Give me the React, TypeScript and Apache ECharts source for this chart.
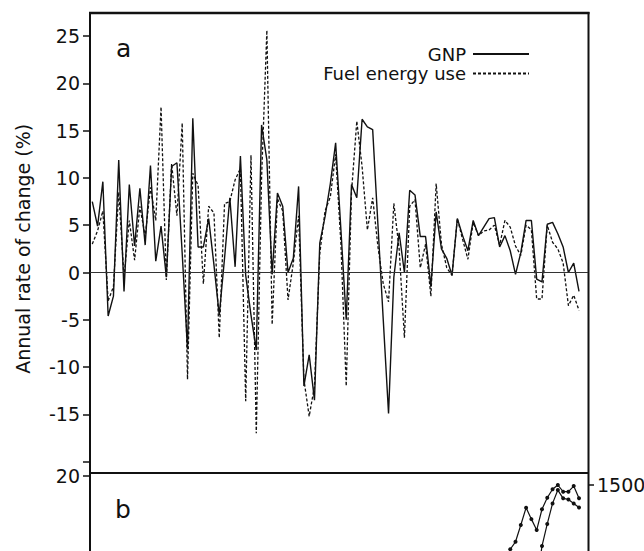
import React, { useEffect, useRef } from "react";
import * as echarts from "echarts";

// Panel a: annual rate of change (%), one value per year from FIRST_YEAR
const FIRST_YEAR = 1890;

const gnpGrowth = [
  // 1890-1899
  7.5, 4.9, 9.6, -4.6, -2.5, 11.9, -2.0, 9.3, 2.8, 8.9,
  // 1900-1909
  2.9, 11.3, 1.2, 4.9, -0.5, 11.2, 11.6, 2.0, -8.1, 16.3,
  // 1910-1919
  2.7, 2.7, 5.7, 0.8, -4.5, 1.5, 7.9, 0.6, 12.3, -0.3,
  // 1920-1929
  -4.5, -8.2, 15.6, 11.9, -0.2, 8.4, 7.0, 0.0, 1.5, 9.1,
  // 1930-1939
  -12.0, -8.7, -13.5, 3.1, 5.9, 9.4, 13.7, 4.5, -5.0, 9.3,
  // 1940-1949
  7.9, 16.2, 15.4, 15.1, 5.0, -5.0, -14.9, -0.5, 4.2, 0.0,
  // 1950-1959
  8.7, 8.2, 3.8, 3.8, -1.5, 6.4, 2.5, 1.5, -0.3, 5.7,
  // 1960-1969
  3.9, 2.3, 5.5, 3.9, 4.8, 5.7, 5.8, 2.7, 3.9, 2.3,
  // 1970-1979
  -0.2, 2.1, 5.5, 5.5, -0.7, -1.0, 5.1, 5.3, 4.1, 2.7,
  // 1980-1982
  0.0, 1.0, -2.0,
];

const fuelGrowth = [
  // 1890-1899
  3.0, 4.4, 6.5, -3.0, -1.5, 8.5, -0.5, 5.5, 1.3, 7.0,
  // 1900-1909
  3.8, 9.0, 5.5, 17.5, -0.8, 11.5, 6.0, 15.8, -11.3, 10.5,
  // 1910-1919
  9.2, -1.2, 7.0, 6.3, -6.9, 7.3, 7.5, 9.8, 11.0, -13.6,
  // 1920-1929
  12.4, -17.0, 10.0, 25.6, -5.5, 7.8, 6.5, -2.9, 1.0, 6.0,
  // 1930-1939
  -11.3, -15.2, -12.0, 2.0, 6.5, 8.0, 12.5, 3.0, -12.0, 8.5,
  // 1940-1949
  16.0, 11.2, 4.5, 7.9, 2.7, -1.2, -3.1, 7.3, 2.5, -6.9,
  // 1950-1959
  7.0, 7.7, 0.5, 3.0, -2.5, 9.4, 3.0, 0.5, -0.3, 5.7,
  // 1960-1969
  3.5, 1.4, 5.3, 3.9, 4.4, 4.5, 5.0, 2.9, 5.5, 4.8,
  // 1970-1979
  2.8, 1.8, 5.0, 4.5, -2.8, -2.8, 5.0, 3.2, 2.5, 1.0,
  // 1980-1982
  -3.5, -2.4, -4.0,
];

const years = gnpGrowth.map((_, i) => FIRST_YEAR + i);

// Panel b (only its top edge is visible)
const panelBYearsUpper = [1968, 1969, 1970, 1971, 1972, 1973, 1974, 1975, 1976, 1977, 1978, 1979, 1980, 1981, 1982];
const panelBValuesUpper = [1200, 1259, 1287, 1350, 1415, 1372, 1331, 1409, 1452, 1484, 1500, 1475, 1475, 1496, 1450];
const panelBYearsLower = [1974, 1975, 1976, 1977, 1978, 1979, 1980, 1981, 1982];
const panelBValuesLower = [1125, 1271, 1354, 1431, 1481, 1450, 1446, 1431, 1416];

// tick labels that fall inside the visible part of panel b
const panelBLeftVisibleTick = 20;
const panelBRightVisibleTick = 1500;

const legendNames = ["GNP", "Fuel energy use"];
const yTitle = "Annual rate of change (%)";

export default function App() {
  const ref = useRef<HTMLDivElement>(null);

  useEffect(() => {
    if (!ref.current) return;
    const chart = echarts.init(ref.current, null, { renderer: "svg" });
    const font = "DejaVu Sans";
    const ink = "#111";
    const xRange = { min: 1889.57, max: 1983.7 };

    const labelStyle = {
      color: ink,
      fontFamily: font,
      fontSize: 19,
      margin: 10,
    };
    const tickStyle = { show: true, inside: false, length: 7, lineStyle: { color: ink, width: 1.5 } };

    const legendBase = {
      right: 114,
      align: "right",
      orient: "horizontal",
      padding: 0,
      itemWidth: 56,
      itemHeight: 12,
      itemGap: 0,
      selectedMode: false,
      itemStyle: { opacity: 0 },
      textStyle: { color: ink, fontFamily: font, fontSize: 18, lineHeight: 16, padding: [0, 2, 0, 0] },
    };

    chart.setOption({
      animation: false,
      backgroundColor: "#ffffff",
      grid: [
        { left: 90, top: 36, width: 498, height: 425.7, outerBoundsMode: "none" },
        { left: 90, top: 476, width: 498, height: 400, outerBoundsMode: "none" },
        { left: 90, top: 485, width: 498, height: 400, outerBoundsMode: "none" },
      ],
      xAxis: [0, 1, 2].map((i) => ({
        type: "value",
        gridIndex: i,
        min: xRange.min,
        max: xRange.max,
        show: false,
      })),
      yAxis: [
        {
          type: "value",
          gridIndex: 0,
          min: -20,
          max: 25,
          interval: 5,
          name: yTitle,
          nameLocation: "middle",
          nameRotate: 90,
          nameGap: 58,
          nameTextStyle: { color: ink, fontFamily: font, fontSize: 19 },
          axisLine: { show: false },
          axisTick: tickStyle,
          axisLabel: {
            ...labelStyle,
            formatter: (v: number) => (v === -20 ? "" : String(v)),
          },
          splitLine: { show: false },
        },
        {
          type: "value",
          gridIndex: 1,
          min: 0,
          max: 20,
          interval: 5,
          axisLine: { show: false },
          axisTick: tickStyle,
          axisLabel: {
            ...labelStyle,
            formatter: (v: number) => (v === panelBLeftVisibleTick ? String(v) : ""),
          },
          splitLine: { show: false },
        },
        {
          type: "value",
          gridIndex: 2,
          position: "right",
          min: 0,
          max: 1500,
          interval: 500,
          axisLine: { show: false },
          axisTick: { ...tickStyle, length: 6 },
          axisLabel: {
            ...labelStyle,
            margin: 9,
            formatter: (v: number) => (v === panelBRightVisibleTick ? String(v) : ""),
          },
          splitLine: { show: false },
        },
      ],
      legend: [
        { ...legendBase, data: [legendNames[0]], top: 45 },
        { ...legendBase, data: [legendNames[1]], top: 64.5 },
      ],
      graphic: [
        { type: "line", shape: { x1: 89, y1: 13, x2: 589.5, y2: 13 }, style: { stroke: ink, lineWidth: 2.5 } },
        { type: "line", shape: { x1: 90, y1: 12, x2: 90, y2: 560 }, style: { stroke: ink, lineWidth: 2 } },
        { type: "line", shape: { x1: 588.5, y1: 12, x2: 588.5, y2: 560 }, style: { stroke: ink, lineWidth: 2 } },
        { type: "line", shape: { x1: 90, y1: 473, x2: 588.5, y2: 473 }, style: { stroke: ink, lineWidth: 2 } },
        {
          type: "text",
          x: 116,
          y: 61,
          style: { text: "a", fill: ink, font: `25px "${font}"`, textVerticalAlign: "bottom" },
        },
        {
          type: "text",
          x: 115,
          y: 522,
          style: { text: "b", fill: ink, font: `25px "${font}"`, textVerticalAlign: "bottom" },
        },
      ],
      series: [
        {
          name: legendNames[0],
          type: "line",
          xAxisIndex: 0,
          yAxisIndex: 0,
          data: years.map((y, i) => [y, gnpGrowth[i]]),
          symbol: "none",
          clip: false,
          lineStyle: { color: ink, width: 1.4, type: "solid" },
          itemStyle: { color: ink },
          markLine: {
            silent: true,
            symbol: ["none", "none"],
            label: { show: false },
            lineStyle: { color: "#333", width: 1, type: "solid" },
            data: [{ yAxis: 0 }],
          },
          z: 3,
        },
        {
          name: legendNames[1],
          type: "line",
          xAxisIndex: 0,
          yAxisIndex: 0,
          data: years.map((y, i) => [y, fuelGrowth[i]]),
          symbol: "none",
          clip: false,
          lineStyle: { color: ink, width: 1.3, type: [3, 2] },
          itemStyle: { color: ink },
          z: 2,
        },
        {
          name: "panel b upper",
          type: "line",
          xAxisIndex: 2,
          yAxisIndex: 2,
          data: panelBYearsUpper.map((y, i) => [y, panelBValuesUpper[i]]),
          symbol: "circle",
          symbolSize: 4,
          clip: false,
          lineStyle: { color: ink, width: 1.2 },
          itemStyle: { color: ink },
        },
        {
          name: "panel b lower",
          type: "line",
          xAxisIndex: 2,
          yAxisIndex: 2,
          data: panelBYearsLower.map((y, i) => [y, panelBValuesLower[i]]),
          symbol: "circle",
          symbolSize: 4,
          clip: false,
          lineStyle: { color: ink, width: 1.2 },
          itemStyle: { color: ink },
        },
      ],
    });

    return () => chart.dispose();
  }, []);

  return (
    <div
      ref={ref}
      style={{ position: "absolute", left: 0, top: 0, width: 644, height: 551, background: "#fff" }}
    />
  );
}
